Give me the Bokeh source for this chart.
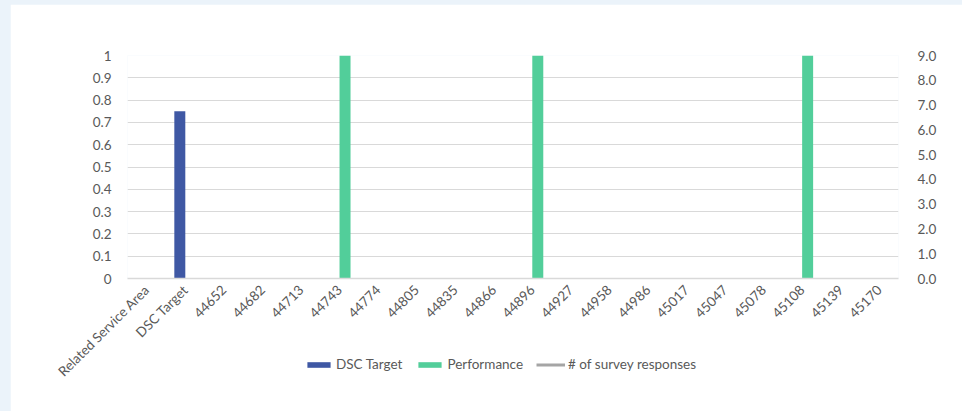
import math
from bokeh.plotting import figure
from bokeh.layouts import column, row
from bokeh.models import (ColumnDataSource, FactorRange, Range1d, LinearAxis, FixedTicker,
                          CustomJSTickFormatter, NumeralTickFormatter, Legend, LegendItem, Spacer)
from bokeh.transform import dodge
from bokeh.embed import file_html
from bokeh.resources import INLINE

nan = float("nan")

categories = ["Related Service Area", "DSC Target", "44652", "44682", "44713", "44743",
              "44774", "44805", "44835", "44866", "44896", "44927", "44958", "44986",
              "45017", "45047", "45078", "45108", "45139", "45170"]
dsc_target = [nan, 0.75, nan, nan, nan, nan, nan, nan, nan, nan,
              nan, nan, nan, nan, nan, nan, nan, nan, nan, nan]
performance = [nan, nan, nan, nan, nan, 1, nan, nan, nan, nan,
               1, nan, nan, nan, nan, nan, nan, 1, nan, nan]
survey_responses = [nan] * 20

left_ticks = [0, 0.1, 0.2, 0.3, 0.4, 0.5, 0.6, 0.7, 0.8, 0.9, 1]
right_ticks = [0, 1, 2, 3, 4, 5, 6, 7, 8, 9]

FONT = "Lato"
FS = "13.5px"
TXT = "#595959"
GRID = "#d9d9d9"
PAGE_BG = "#ebf3fa"
BLUE = "#3f58a4"
GREEN = "#52ce9a"
GREY = "#a5a5a5"

source = ColumnDataSource(dict(cat=categories, dsc=dsc_target, perf=performance,
                               resp=survey_responses))

p = figure(x_range=FactorRange(factors=categories, range_padding=0), y_range=Range1d(0, 1),
           width=952, height=407, output_backend="svg", toolbar_location=None,
           min_border_left=117, min_border_right=64, min_border_top=51, min_border_bottom=133,
           outline_line_color=None, background_fill_color="white", border_fill_color="white")

p.extra_y_ranges = {"right": Range1d(0, 9)}

p.vbar(x=dodge("cat", -0.143, range=p.x_range), top="dsc", width=0.285, source=source,
       fill_color=BLUE, line_color=None)
p.vbar(x=dodge("cat", 0.143, range=p.x_range), top="perf", width=0.285, source=source,
       fill_color=GREEN, line_color=None)
p.line(x="cat", y="resp", source=source, y_range_name="right", line_color=GREY, line_width=3)

# left axis
ya = p.yaxis[0]
ya.ticker = FixedTicker(ticks=left_ticks)
ya.formatter = CustomJSTickFormatter(code="return (Math.round(tick*10)/10).toString();")
ya.axis_line_color = None
ya.major_tick_line_color = None
ya.minor_tick_line_color = None
ya.major_label_standoff = 10
ya.major_label_text_font = FONT
ya.major_label_text_font_size = FS
ya.major_label_text_color = TXT

# right axis
ra = LinearAxis(y_range_name="right", ticker=FixedTicker(ticks=right_ticks),
                formatter=NumeralTickFormatter(format="0.0"))
ra.axis_line_color = None
ra.major_tick_line_color = None
ra.minor_tick_line_color = None
ra.major_label_standoff = 13
ra.major_label_text_font = FONT
ra.major_label_text_font_size = FS
ra.major_label_text_color = TXT
p.add_layout(ra, "right")

# x axis
xa = p.xaxis[0]
xa.axis_line_color = GRID
xa.axis_line_width = 1.5
xa.major_tick_line_color = None
xa.minor_tick_line_color = None
xa.major_label_orientation = math.pi / 4
xa.major_label_standoff = 3
xa.major_label_text_font = FONT
xa.major_label_text_font_size = FS
xa.major_label_text_color = TXT

p.xgrid.grid_line_color = None
p.ygrid.grid_line_color = GRID
p.ygrid.grid_line_width = 1

# legend strip, overlaid just under the axis labels
lg = figure(x_range=FactorRange(factors=categories), y_range=Range1d(10, 11),
            width=962, height=20, output_backend="svg", toolbar_location=None,
            x_axis_location=None, y_axis_location=None, min_border=0,
            outline_line_color=None, background_fill_alpha=0, border_fill_alpha=0,
            margin=(-59, 0, 39, 0))
lg.xgrid.grid_line_color = None
lg.ygrid.grid_line_color = None
r1 = lg.vbar(x="cat", top="dsc", width=0.5, source=source, fill_color=BLUE, line_color=None)
r2 = lg.vbar(x="cat", top="perf", width=0.5, source=source, fill_color=GREEN, line_color=None)
r3 = lg.line(x="cat", y="resp", source=source, line_color=GREY, line_width=3)

legend = Legend(items=[LegendItem(label="DSC Target", renderers=[r1]),
                       LegendItem(label="Performance", renderers=[r2]),
                       LegendItem(label="# of survey responses", renderers=[r3])],
                orientation="horizontal", location=(304, 0),
                glyph_width=29, glyph_height=7, label_standoff=3, spacing=13,
                padding=0, margin=0, border_line_color=None, background_fill_alpha=0,
                label_text_font=FONT, label_text_font_size=FS, label_text_color=TXT)
lg.add_layout(legend, "center")

layout = column(Spacer(width=962, height=4),
                row(Spacer(width=10, height=407), p, spacing=0),
                lg,
                background=PAGE_BG, spacing=0)

html = file_html(layout, INLINE)
open("out.html", "w").write(html)
